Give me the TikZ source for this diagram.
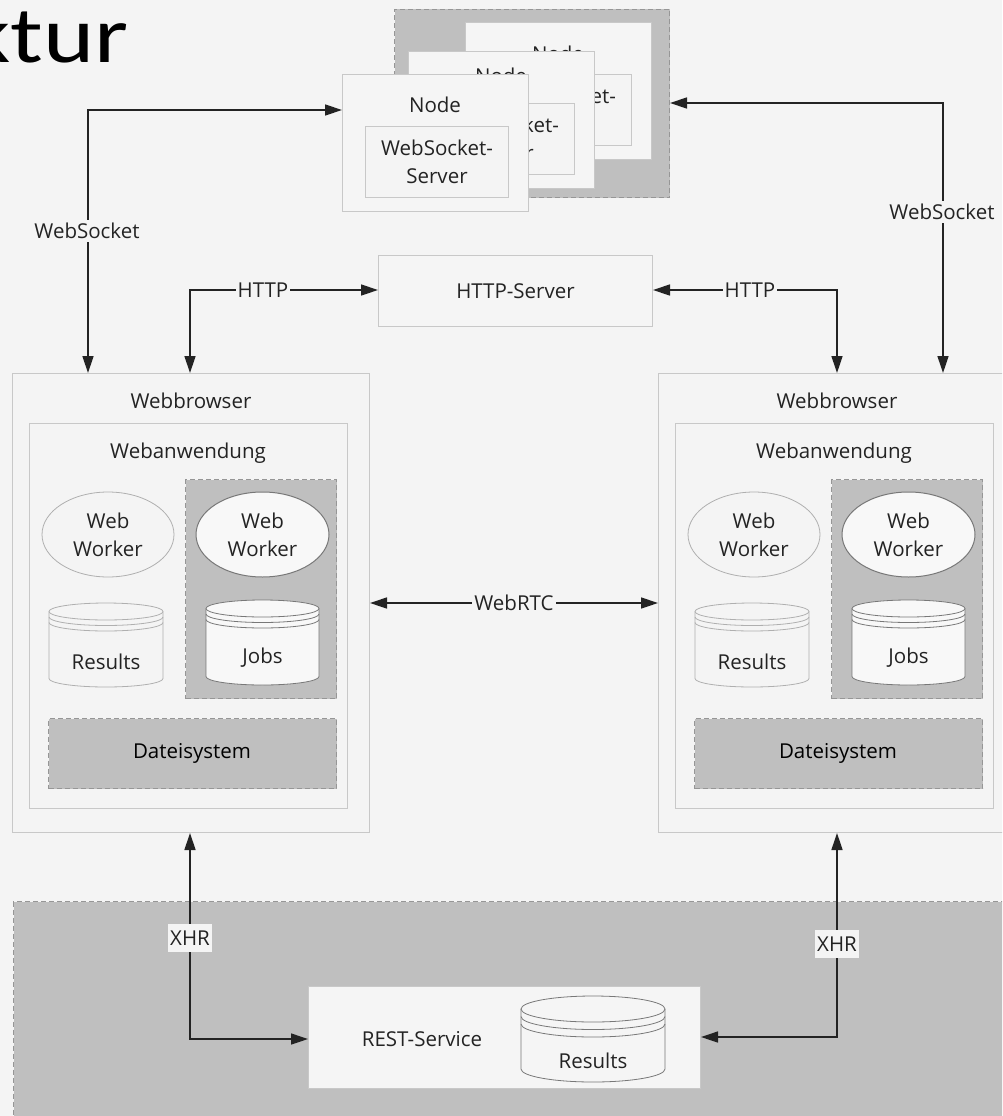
\documentclass[tikz,border=0pt]{standalone}
\usepackage{fontspec}
\setmainfont{Open Sans}
\newfontfamily\titlefont{Carlito}
\usetikzlibrary{arrows.meta,shapes.geometric}

\definecolor{bg}{RGB}{244,244,244}
\definecolor{boxfill}{RGB}{245,245,245}
\definecolor{boxline}{RGB}{200,200,200}
\definecolor{softline}{RGB}{175,175,175}
\definecolor{grpfill}{RGB}{191,191,191}
\definecolor{grpline}{RGB}{150,150,150}
\definecolor{darkline}{RGB}{120,120,120}
\definecolor{cylfill}{RGB}{248,248,248}
\definecolor{lnk}{RGB}{35,35,35}
\definecolor{txt}{RGB}{35,35,35}

\tikzset{
  frame/.style={draw=boxline, fill=boxfill, line width=1pt, inner sep=0pt, anchor=north west},
  grp/.style={draw=grpline, fill=grpfill, line width=1pt, dash pattern=on 5pt off 3pt, inner sep=0pt, anchor=north west},
  txt/.style={text=txt, inner sep=0pt, align=center},
  lightell/.style={ellipse, draw=softline, fill=bg, line width=0.8pt, inner sep=0pt, align=center, text=txt},
  darkell/.style={ellipse, draw=darkline, fill=cylfill, line width=1pt, inner sep=0pt, align=center, text=txt},
  lbl/.style={fill=bg, text=txt, inner xsep=2pt, inner ysep=3pt},
  tagbox/.style={fill=bg, text=txt, inner xsep=2pt, inner ysep=7pt},
  link/.style={draw=lnk, line width=1.4pt, {Triangle[length=17pt,width=11pt]}-{Triangle[length=17pt,width=11pt]}},
}

% database cylinder: centre x, top y, x radius, y radius, bottom y, ring gap, fill, line
\newcommand\dbcyl[8]{%
  \filldraw[fill=#7, draw=#8, line width=0.8pt]
    ({#1-#3},{#2+#4}) -- ({#1-#3},{#5-#4})
    arc[start angle=180, end angle=0, x radius=#3, y radius=#4]
    -- ({#1+#3},{#2+#4})
    arc[start angle=0, end angle=-180, x radius=#3, y radius=#4] -- cycle;
  \draw[draw=#8, line width=0.8pt] ({#1-#3},{#2+#4})
    arc[start angle=180, end angle=0, x radius=#3, y radius=#4];
  \draw[draw=#8, line width=0.8pt] ({#1-#3},{#2+#4+#6})
    arc[start angle=180, end angle=0, x radius=#3, y radius=#4];
  \draw[draw=#8, line width=0.8pt] ({#1-#3},{#2+#4+2*#6})
    arc[start angle=180, end angle=0, x radius=#3, y radius=#4];
}

% one server node card: name, left x, top y, title offset
\newcommand\servercard[4]{%
  \node[frame, minimum width=186, minimum height=137] (#1) at (#2,#3) {};
  \node[txt] (#1-title) at ({#2+93},{#3+#4}) {Node};
  \node[frame, fill=bg, minimum width=143, minimum height=71] (#1-ws) at ({#2+23},{#3+52}) {};
  \node[txt] (#1-wstext) at (#1-ws.center) {WebSocket-\\Server};
}

% browser with web application, left browser coordinates
\newcommand\browserpart{%
  \node[frame, fill=bg, minimum width=357, minimum height=459] (brw) at (12,373) {};
  \node[txt] (brwtitle) at (191,401) {Webbrowser};
  \node[frame, fill=bg, minimum width=318, minimum height=385] (app) at (29,423) {};
  \node[txt] (apptitle) at (188,453) {Webanwendung};
  \node[grp, minimum width=151, minimum height=219] (jobgrp) at (185,479) {};
  \node[lightell, minimum width=132, minimum height=85] (ww1) at (108,534.5) {Web\\Worker};
  \node[darkell, minimum width=133, minimum height=85] (ww2) at (262.5,534.5) {Web\\Worker};
  \dbcyl{106}{603}{57}{8.5}{687}{5.5}{bg}{softline}
  \node[txt] (results) at (106,662) {Results};
  \dbcyl{262.5}{600}{56.5}{8.5}{685}{5.5}{cylfill}{darkline}
  \node[txt] (jobs) at (262.5,658) {Jobs};
  \node[grp, minimum width=288, minimum height=70] (fs) at (48,718) {};
  \node[txt, text=black] (fstext) at (192,753) {Dateisystem};
}

\begin{document}
\begin{tikzpicture}[x=1pt, y=-1pt, font=\fontsize{20.5}{28}\selectfont]
\useasboundingbox (0,0) rectangle (1002,1116);
\clip (0,0) rectangle (1002,1116);
\fill[bg] (0,0) rectangle (1002,1116);

% heading
\node[font=\titlefont\fontsize{80}{80}\selectfont, anchor=base east, inner sep=0pt, text=black]
  (heading) at (129,63) {\scalebox{1.22}[1]{ktur}};

% back-end region
\node[grp, minimum width=1000, minimum height=240] (backend) at (13,901) {};
\node[frame, minimum width=392, minimum height=102] (rest) at (308,986) {};
\node[txt] (resttext) at (422,1039) {REST-Service};
\dbcyl{593}{996}{72}{13}{1082}{7.5}{boxfill}{darkline}
\node[txt] (restresults) at (593,1061) {Results};

% cluster of WebSocket nodes
\node[grp, minimum width=275, minimum height=188] (stack) at (394,9) {};
\servercard{nodeC}{465}{22}{32}
\servercard{nodeB}{408}{51}{25}
\servercard{nodeA}{342}{74}{31}

% HTTP server
\node[frame, minimum width=274, minimum height=71] (http) at (378,255) {};
\node[txt] (httptext) at (http.center) {HTTP-Server};

% browsers
\begin{scope}[name prefix=L-]
  \browserpart
\end{scope}
\begin{scope}[xshift=646pt, name prefix=R-]
  \browserpart
\end{scope}

% connection points
\coordinate (wsL) at (88,110);
\coordinate (wsR) at (943,103);
\coordinate (hL) at (190,290);
\coordinate (hR) at (837,290);
\coordinate (rtc) at (0,603);
\coordinate (xL) at (190,1039);
\coordinate (xR) at (837,1037);

% connectors
\draw[link] (L-brw.north -| wsL) -- (wsL) -- (wsL -| nodeA.west);
\draw[link] (wsR -| stack.east) -- (wsR) -- (wsR |- R-brw.north);
\draw[link] (L-brw.north -| hL) -- (hL) -- (hL -| http.west);
\draw[link] (hR -| http.east) -- (hR) -- (hR |- R-brw.north);
\draw[link] (L-brw.east |- rtc) -- (R-brw.west |- rtc);
\draw[link] (L-brw.south -| xL) -- (xL) -- (xL -| rest.west);
\draw[link] (R-brw.south -| xR) -- (xR) -- (xR -| rest.east);

% connector labels
\node[lbl] (wsLlabel) at (87,231) {WebSocket};
\node[lbl] (wsRlabel) at (942,212) {WebSocket};
\node[lbl] (hLlabel) at (263,290) {HTTP};
\node[lbl] (hRlabel) at (750,290) {HTTP};
\node[lbl] (rtclabel) at (514,603) {WebRTC};
\node[tagbox] (xLlabel) at (190,938) {XHR};
\node[tagbox] (xRlabel) at (837,944) {XHR};
\end{tikzpicture}
\end{document}
